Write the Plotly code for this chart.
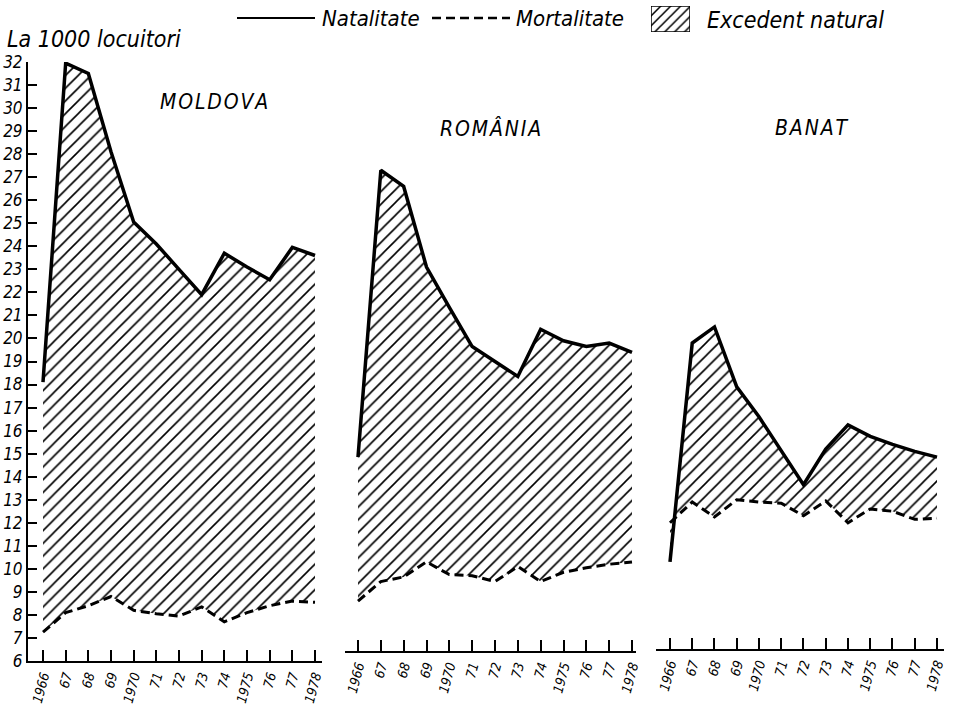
import plotly.graph_objects as go

# ---------------- data (per 1000 inhabitants) ----------------
years = list(range(1966, 1979))
tick_labels = ["1966", "67", "68", "69", "1970", "71", "72", "73", "74",
               "1975", "76", "77", "1978"]
y_ticks = list(range(6, 33))

moldova_nat = [18.1, 31.95, 31.5, 28.1, 25.05, 24.1, 23.0, 21.9, 23.7, 23.1, 22.55, 23.95, 23.6]
moldova_mort = [7.25, 8.1, 8.4, 8.8, 8.2, 8.05, 7.95, 8.35, 7.7, 8.1, 8.4, 8.6, 8.55]

romania_nat = [14.85, 27.3, 26.6, 23.1, 21.35, 19.65, 19.0, 18.35, 20.4, 19.9, 19.65, 19.8, 19.4]
romania_mort = [8.6, 9.45, 9.65, 10.3, 9.75, 9.7, 9.45, 10.1, 9.45, 9.85, 10.05, 10.2, 10.3]

banat_nat = [10.3, 19.8, 20.5, 17.9, 16.6, 15.1, 13.65, 15.2, 16.25, 15.75, 15.4, 15.1, 14.85]
banat_mort = [12.0, 12.9, 12.25, 13.0, 12.9, 12.85, 12.3, 12.95, 12.0, 12.6, 12.5, 12.15, 12.2]

panel_titles = ["M\u200aO\u200aL\u200aD\u200aO\u200aV\u200aA",
                "R\u200aO\u200aM\u200aÂ\u200aN\u200aI\u200aA",
                "B\u200aA\u200aN\u200aA\u200aT"]
legend_labels = ["Natalitate", "Mortalitate", "Excedent natural"]
y_title = "La 1000 locuitori"

# ---------------- layout helpers ----------------
W, H = 953, 705
FONT = "DejaVu Sans Condensed, Liberation Sans Narrow, DejaVu Sans, sans-serif"


def px(x):
    return x / W


def py(y):
    return 1 - y / H


hatch = dict(shape="/", fgcolor="black", bgcolor="white", size=9, solidity=0.18)

fig = go.Figure()

panels = [
    ("x", moldova_nat, moldova_mort),
    ("x2", romania_nat, romania_mort),
    ("x3", banat_nat, banat_mort),
]
for xa, nat, mort in panels:
    fig.add_trace(go.Scatter(x=years, y=mort, xaxis=xa, yaxis="y", mode="lines",
                             line=dict(color="black", width=3, dash="9px,5px"),
                             hoverinfo="skip"))
    fig.add_trace(go.Scatter(x=years, y=nat, xaxis=xa, yaxis="y", mode="lines",
                             line=dict(color="black", width=3.5),
                             fill="tonexty", fillcolor="white", fillpattern=hatch,
                             hoverinfo="skip"))

# legend hatched box (separate tiny axes)
fig.add_trace(go.Scatter(x=[0, 1, 1, 0, 0], y=[0, 0, 1, 1, 0], xaxis="x4", yaxis="y4",
                         mode="lines", fill="toself", fillcolor="white",
                         fillpattern=dict(shape="/", fgcolor="black", bgcolor="white",
                                          size=7, solidity=0.22),
                         line=dict(color="black", width=1.5), hoverinfo="skip"))

tickfont = dict(family=FONT, size=13.5, color="black", style="italic")

xcommon = dict(tickmode="array", tickvals=years, ticktext=tick_labels,
               ticks="inside", ticklen=11, tickwidth=1.5, tickcolor="black",
               showline=True, linecolor="black", linewidth=1.8,
               showgrid=False, zeroline=False, tickangle=-75,
               tickfont=tickfont, fixedrange=True, automargin=False)

y_bottom, y_top = py(661), py(62)

fig.update_layout(
    template="none",
    width=W, height=H,
    margin=dict(l=0, r=0, t=0, b=0, pad=0, autoexpand=False),
    paper_bgcolor="white", plot_bgcolor="rgba(0,0,0,0)",
    showlegend=False,
    font=dict(family=FONT, color="black"),
    xaxis=dict(domain=[px(28), px(322)], range=[1965.338, 1978.309],
               anchor="y", **xcommon),
    xaxis2=dict(domain=[px(345), px(636)], range=[1965.431, 1978.175],
                anchor="free", position=py(652), **xcommon),
    xaxis3=dict(domain=[px(656), px(944)], range=[1965.371, 1978.315],
                anchor="free", position=py(650), **xcommon),
    yaxis=dict(domain=[y_bottom, y_top], range=[6, 32], anchor="x",
               tickmode="array", tickvals=y_ticks, ticktext=[str(v) for v in y_ticks],
               ticks="inside", ticklen=9, tickwidth=1.5, tickcolor="black",
               showline=True, linecolor="black", linewidth=2,
               showgrid=False, zeroline=False, automargin=False,
               tickfont=dict(family=FONT, size=17, color="black", style="italic"),
               fixedrange=True),
    xaxis4=dict(domain=[px(651), px(690)], range=[0, 1], visible=False,
                anchor="y4", fixedrange=True, automargin=False),
    yaxis4=dict(domain=[py(32), py(6)], range=[0, 1], visible=False,
                anchor="x4", fixedrange=True, automargin=False),
)

# legend line samples
fig.add_shape(type="line", xref="paper", yref="paper",
              x0=px(237), x1=px(315), y0=py(18), y1=py(18),
              line=dict(color="black", width=2))
fig.add_shape(type="line", xref="paper", yref="paper",
              x0=px(432), x1=px(510), y0=py(18), y1=py(18),
              line=dict(color="black", width=2.5, dash="9px,5px"))

ann_font = dict(family=FONT, color="black", style="italic")
annots = [
    (legend_labels[0], 320, 18, 22),
    (legend_labels[1], 514, 18, 22),
    (legend_labels[2], 705, 20, 23),
    (y_title, 5, 39, 23),
]
for txt, x, y, s in annots:
    fig.add_annotation(text=txt, x=px(x), y=py(y), xref="paper", yref="paper",
                       xanchor="left", yanchor="middle", showarrow=False,
                       font=dict(size=s, **ann_font))

for txt, x, y in zip(panel_titles, [214, 490, 811], [102, 128, 128]):
    fig.add_annotation(text=txt, x=px(x), y=py(y), xref="paper", yref="paper",
                       xanchor="center", yanchor="middle", showarrow=False,
                       font=dict(size=21, **ann_font))

fig.write_html("out.html", config={"displayModeBar": False},
               post_script="document.body.style.margin='0';document.body.style.overflow='hidden';")
